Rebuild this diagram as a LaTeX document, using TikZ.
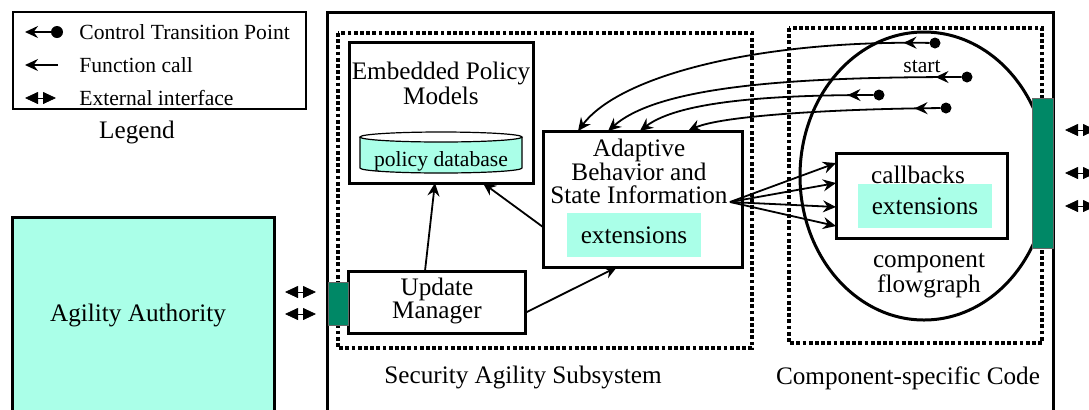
\documentclass[tikz,border=0pt]{standalone}
\usepackage{fontspec}
\setmainfont{Liberation Serif}
\usetikzlibrary{arrows.meta,calc,shapes.geometric,decorations.markings}
\definecolor{aqua}{HTML}{AAFFE8}
\definecolor{portgreen}{HTML}{008866}
\tikzset{
  box/.style={draw, line width=1.5pt, inner sep=0pt, outer sep=0pt, anchor=north west},
  dotbox/.style={draw, line width=1.7pt, dash pattern=on 1.9pt off 1.2pt},
  txt/.style={font=\fontsize{12.6}{11.2}\selectfont, align=center, inner sep=0pt},
  smalltxt/.style={font=\fontsize{10.8}{12}\selectfont, inner sep=0pt},
  call/.style={line width=0.9pt, -{Stealth[length=6.5pt,width=6pt,inset=2.2pt]}},
  ctp/.style={call, postaction={decorate},
    decoration={markings, mark=at position 13pt with {\arrow{Stealth[length=6.5pt,width=6pt,inset=2.2pt]}}}},
  ctpdot/.style={circle, fill, inner sep=0pt, outer sep=0pt, minimum size=5.5pt},
  ext/.style={line width=0.4pt, {Triangle[length=6.5pt,width=6pt]}-{Triangle[length=6.5pt,width=6pt]}},
  port/.style={draw=black!60, line width=0.5pt, fill=portgreen, inner sep=0pt, outer sep=0pt, anchor=north west},
  extbox/.style={fill=aqua, inner sep=0pt, outer sep=0pt, anchor=north west},
}
\begin{document}
\begin{tikzpicture}[x=0.5pt, y=-0.5pt]
\useasboundingbox (0,0) rectangle (1089,409);
\clip (0,0) rectangle (1089,409);

% ---- legend ----
\node[draw, line width=0.7pt, inner sep=0pt, outer sep=0pt, anchor=north west,
      minimum width=146.5pt, minimum height=48.5pt] (lg) at (13,12) {};
\node[ctpdot, minimum size=6pt] (lg1d) at (57,32) {};
\coordinate (lg1a) at (25,32);
\draw[call] (lg1d) -- (lg1a);
\coordinate (lg2s) at (58,65);
\coordinate (lg2a) at (25,65);
\draw[call] (lg2s) -- (lg2a);
\coordinate (lg3a) at (25,98);
\coordinate (lg3b) at (56,98);
\draw[ext] (lg3a) -- (lg3b);
\node[smalltxt, anchor=west] (lgt1) at (79,32) {Control Transition Point};
\node[smalltxt, anchor=west] (lgt2) at (79,65) {Function call};
\node[smalltxt, anchor=west] (lgt3) at (79,98) {External interface};
\node[txt] (lgt) at (137,132) {Legend};

% ---- agility authority ----
\node[box, fill=aqua, minimum width=131pt, minimum height=120pt] (aa) at (12,217) {};
\node[txt] (aat) at (138,315) {Agility Authority};

% ---- outer frame of the protected component ----
\draw[line width=1.5pt] (327,440) -- (327,12) -- (1053,12) -- (1053,440);

% ---- dotted groupings ----
\draw[dotbox] (338,33) rectangle (752,348);
\draw[dotbox] (789,28) rectangle (1042,343);
\node[txt] (sast) at (523,377) {Security Agility Subsystem};
\node[txt] (csct) at (908,378) {Component-specific Code};

% ---- embedded policy models ----
\node[box, minimum width=92pt, minimum height=70.5pt] (ep) at (349,42) {};
\node[txt] (ept) at (441,83) {Embedded Policy\\Models};
\fill[aqua] (360,137) -- (360,168) arc[start angle=180, end angle=360, x radius=40.5pt, y radius=2.5pt]
  -- (522,137) arc[start angle=0, end angle=-180, x radius=40.5pt, y radius=2.5pt] -- cycle;
\draw[line width=0.6pt] (360,137) -- (360,168) arc[start angle=180, end angle=360, x radius=40.5pt, y radius=2.5pt]
  -- (522,137);
\draw[line width=0.6pt] (441,137) ellipse[x radius=40.5pt, y radius=2.5pt];
\node[smalltxt] (pdb) at (441,161) {policy database};

% ---- adaptive behavior ----
\node[box, minimum width=99.5pt, minimum height=68pt] (ad) at (543,131) {};
\node[txt] (adt) at (639,171) {Adaptive\\Behavior and\\State Information};
\node[extbox, minimum width=67pt, minimum height=22pt] (adx) at (567,213) {};
\node[txt] (adxt) at (634,235) {extensions};
\coordinate (adsrc) at (730,202);

% ---- update manager ----
\node[box, fill=white, minimum width=88.5pt, minimum height=31pt] (um) at (348,271) {};
\node[txt] (umt) at (437,301) {Update\\Manager};
\node[port, minimum width=10pt, minimum height=21.5pt] (lp) at (328,282) {};

% ---- component flowgraph ----
\node[ellipse, draw, line width=1.5pt, inner sep=0pt, minimum width=124pt, minimum height=144pt] (fg) at (924,176) {};
\node[port, minimum width=10.5pt, minimum height=75pt] (rp) at (1032,98) {};
\node[box, minimum width=85.5pt, minimum height=42.5pt] (cb) at (836,153) {};
\node[extbox, minimum width=67pt, minimum height=22pt] (cbx) at (858,184) {};
\node[txt] (cbt) at (918,175) {callbacks};
\node[txt] (cbxt) at (925,206) {extensions};
\node[txt] (fgt) at (929,276) {component\\flowgraph};
\node[smalltxt] (st) at (922,67) {start};

% ---- control transition points ----
\node[ctpdot] (d1) at (935,43) {};
\node[ctpdot] (d2) at (967,77) {};
\node[ctpdot] (d3) at (879,95) {};
\node[ctpdot] (d4) at (946,108) {};
\draw[ctp] (d1) .. controls (760,40) and (620,75) .. ($(ad.north west)!0.176!(ad.north east)$);
\draw[ctp] (d2) .. controls (800,77) and (660,85) .. ($(ad.north west)!0.327!(ad.north east)$);
\draw[ctp] (d3) .. controls (780,95) and (680,100) .. ($(ad.north west)!0.487!(ad.north east)$);
\draw[ctp] (d4) .. controls (830,109) and (720,116) .. ($(ad.north west)!0.729!(ad.north east)$);

% ---- function calls ----
\draw[call] ($(um.north west)!0.435!(um.north east)$) -- ($(ep.south west)!0.467!(ep.south east)$);
\draw[call] ($(ad.north west)!0.706!(ad.south west)$) -- ($(ep.south west)!0.728!(ep.south east)$);
\draw[call] ($(um.north east)!0.677!(um.south east)$) -- ($(ad.south west)!0.372!(ad.south east)$);
\draw[call] (adsrc) -- ($(cb.north west)!0.118!(cb.south west)$);
\draw[call] (adsrc) -- ($(cb.north west)!0.353!(cb.south west)$);
\draw[call] (adsrc) -- ($(cb.north west)!0.635!(cb.south west)$);
\draw[call] (adsrc) -- ($(cb.north west)!0.859!(cb.south west)$);

% ---- external interfaces ----
\coordinate (xl1a) at (285,292); \coordinate (xl1b) at (316,292);
\coordinate (xl2a) at (285,314); \coordinate (xl2b) at (316,314);
\draw[ext] (xl1a) -- (xl1b);
\draw[ext] (xl2a) -- (xl2b);
\coordinate (xr1a) at (1065,130); \coordinate (xr1b) at (1096,130);
\coordinate (xr2a) at (1065,173); \coordinate (xr2b) at (1096,173);
\coordinate (xr3a) at (1065,206); \coordinate (xr3b) at (1096,206);
\draw[ext] (xr1a) -- (xr1b);
\draw[ext] (xr2a) -- (xr2b);
\draw[ext] (xr3a) -- (xr3b);
\end{tikzpicture}
\end{document}
